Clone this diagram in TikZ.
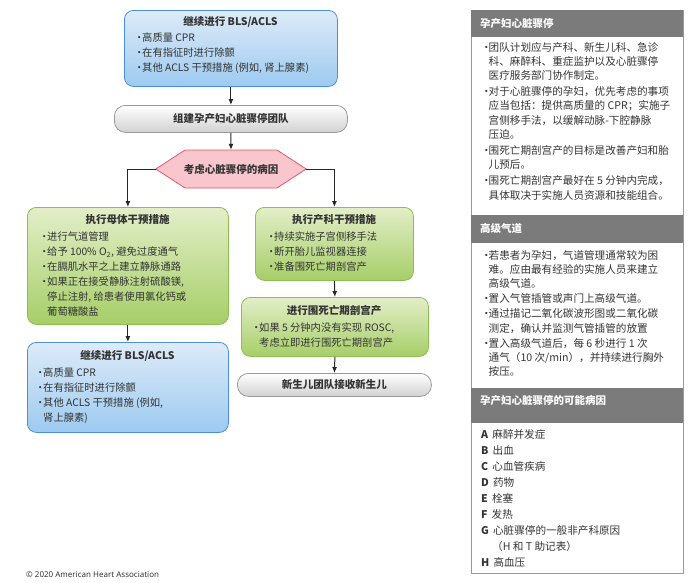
\documentclass[tikz,border=0pt]{standalone}
\usepackage{fontspec}
\usetikzlibrary{arrows.meta}
\setmainfont{Noto Sans CJK SC}
\newfontfamily\latinsans{Noto Sans}
\definecolor{bluedge}{HTML}{4A90D9}
\definecolor{bluetop}{HTML}{DDEBF8}
\definecolor{bluebot}{HTML}{9DCAF0}
\definecolor{grnedge}{HTML}{8DBD4E}
\definecolor{grntop}{HTML}{E3EEC8}
\definecolor{grnbot}{HTML}{A6CE68}
\definecolor{pilledge}{HTML}{9A9A9A}
\definecolor{hexedge}{HTML}{E05A6A}
\definecolor{hexfill}{HTML}{F8C6CC}
\definecolor{hdr}{HTML}{7B7B7B}
\definecolor{txt}{HTML}{333333}
\newcommand\bl{\makebox[8pt][l]{\textbullet}}
\newcommand\cn{\hspace*{8pt}}
\newcommand\pbl{\makebox[7.5pt][l]{\textbullet}}
\newcommand\pcn{\hspace*{7.5pt}}
\tikzset{
  box/.style={rectangle, rounded corners=9pt, line width=0.8pt, anchor=north west, inner sep=0pt},
  bluebox/.style={box, draw=bluedge, top color=bluetop, bottom color=bluebot},
  grnbox/.style={box, draw=grnedge, top color=grntop, bottom color=grnbot},
  pillbox/.style={box, rounded corners=11pt, draw=pilledge, top color=white, bottom color=black!18},
  ttl/.style={font=\fontsize{10.5}{13}\selectfont\bfseries, text=txt, inner sep=0pt},
  body/.style={font=\fontsize{10.3}{15}\selectfont, text=txt, align=left, anchor=north west, inner sep=0pt},
  pbody/.style={font=\fontsize{10.6}{14.2}\selectfont, text=txt, align=left, anchor=north west, inner sep=0pt},
  hdrtxt/.style={font=\fontsize{10.5}{13}\selectfont\bfseries, text=white, anchor=west, inner sep=0pt},
  arr/.style={-{Latex[length=6pt,width=5pt]}, line width=1pt, draw=black!85},
}
\begin{document}
\begin{tikzpicture}[x=1pt,y=-1pt]
\useasboundingbox (0,0) rectangle (691,582);
\node[bluebox, minimum width=213, minimum height=76] (b1) at (124,10) {};
\node[ttl] (b1t) at (230.5,22) {继续进行 BLS/ACLS};
\node[body] (b1b) at (134,33) {\bl 高质量 CPR\\ \bl 在有指征时进行除颤\\ \bl 其他 ACLS 干预措施 (例如, 肾上腺素)};
\node[pillbox, minimum width=233, minimum height=27] (p1) at (114,105) {};
\node[ttl] (p1t) at (p1.center) {组建孕产妇心脏骤停团队};
\node[minimum width=150, minimum height=38, inner sep=0pt] (hx) at (231,169) {};
\fill[hexfill] (hx.west) -- (185,150) -- (277,150) -- (hx.east) -- (277,188) -- (185,188) -- cycle;
\draw[hexedge, line width=0.8pt] (hx.west) -- (185,150) -- (277,150) -- (hx.east) -- (277,188) -- (185,188) -- cycle;
\node[ttl] (hxt) at (hx.center) {考虑心脏骤停的病因};
\node[grnbox, minimum width=201, minimum height=117] (g1) at (27,207) {};
\node[ttl] (g1t) at (127.5,220) {执行母体干预措施};
\node[body] (g1b) at (39,232) {\bl 进行气道管理\\ \bl 给予 100\% O\textsubscript{2}, 避免过度通气\\ \bl 在膈肌水平之上建立静脉通路\\ \bl 如果正在接受静脉注射硫酸镁,\\ \cn 停止注射, 给患者使用氯化钙或\\ \cn 葡萄糖酸盐};
\node[grnbox, minimum width=158, minimum height=73] (g2) at (255,207) {};
\node[ttl] (g2t) at (334,220) {执行产科干预措施};
\node[body] (g2b) at (266,232) {\bl 持续实施子宫侧移手法\\ \bl 断开胎儿监视器连接\\ \bl 准备围死亡期剖宫产};
\node[grnbox, minimum width=187, minimum height=59] (g3) at (241,297) {};
\node[ttl] (g3t) at (334,311) {进行围死亡期剖宫产};
\node[body] (g3b) at (251,323) {\bl 如果 5 分钟内没有实现 ROSC,\\ \cn 考虑立即进行围死亡期剖宫产};
\node[pillbox, minimum width=194, minimum height=23] (p2) at (237,373) {};
\node[ttl] (p2t) at (p2.center) {新生儿团队接收新生儿};
\node[bluebox, minimum width=201, minimum height=90] (b2) at (27,342) {};
\node[ttl] (b2t) at (127.5,356) {继续进行 BLS/ACLS};
\node[body] (b2b) at (35,368) {\bl 高质量 CPR\\ \bl 在有指征时进行除颤\\ \bl 其他 ACLS 干预措施 (例如,\\ \cn 肾上腺素)};
\draw[arr] (b1.south) -- (p1.north);
\draw[arr] (p1.south) -- (hx.north);
\draw[arr] (hx.west) -| (g1.north);
\draw[arr] (hx.east) -| (g2.north);
\draw[arr] (g1.south) -- (b2.north);
\draw[arr] (g2.south) -- (g3.north);
\draw[arr] (g3.south) -- (p2.north);
\node[font=\latinsans\fontsize{8}{10}\selectfont, text=txt, anchor=west, inner sep=0pt] (cp) at (26,575) {© 2020 American Heart Association};
\node[rectangle, draw=black!40, line width=1pt, anchor=north west, minimum width=212, minimum height=563, inner sep=0pt] (panel) at (471,10) {};
\fill[hdr] (471,10) rectangle (683,37);
\node[hdrtxt] (h1) at (480,24) {孕产妇心脏骤停};
\node[pbody] (pb1) at (481,42) {\pbl 团队计划应与产科、新生儿科、急诊\\ \pcn 科、麻醉科、重症监护以及心脏骤停\\ \pcn 医疗服务部门协作制定。\\[2pt] \pbl 对于心脏骤停的孕妇，优先考虑的事项\\ \pcn 应当包括：提供高质量的 CPR；实施子\\ \pcn 宫侧移手法，以缓解动脉-下腔静脉\\ \pcn 压迫。\\[2pt] \pbl 围死亡期剖宫产的目标是改善产妇和胎\\ \pcn 儿预后。\\[2pt] \pbl 围死亡期剖宫产最好在 5 分钟内完成，\\ \pcn 具体取决于实施人员资源和技能组合。};
\fill[hdr] (471,215) rectangle (683,243);
\node[hdrtxt] (h2) at (480,229) {高级气道};
\node[pbody] (pb2) at (481,250) {\pbl 若患者为孕妇，气道管理通常较为困\\ \pcn 难。应由最有经验的实施人员来建立\\ \pcn 高级气道。\\[1pt] \pbl 置入气管插管或声门上高级气道。\\[1pt] \pbl 通过描记二氧化碳波形图或二氧化碳\\ \pcn 测定，确认并监测气管插管的放置\\[1pt] \pbl 置入高级气道后，每 6 秒进行 1 次\\ \pcn 通气（10 次/min），并持续进行胸外\\ \pcn 按压。};
\fill[hdr] (471,388) rectangle (683,423);
\node[hdrtxt] (h3) at (480,401) {孕产妇心脏骤停的可能病因};
\node[pbody, font=\fontsize{10.6}{16}\selectfont] (pb3) at (481,429) {\textbf{A}\, 麻醉并发症\\ \textbf{B}\, 出血\\ \textbf{C}\, 心血管疾病\\ \textbf{D}\, 药物\\ \textbf{E}\, 栓塞\\ \textbf{F}\, 发热\\ \textbf{G}\, 心脏骤停的一般非产科原因\\ \hspace*{11pt}（H 和 T 助记表）\\ \textbf{H}\, 高血压};
\end{tikzpicture}
\end{document}
